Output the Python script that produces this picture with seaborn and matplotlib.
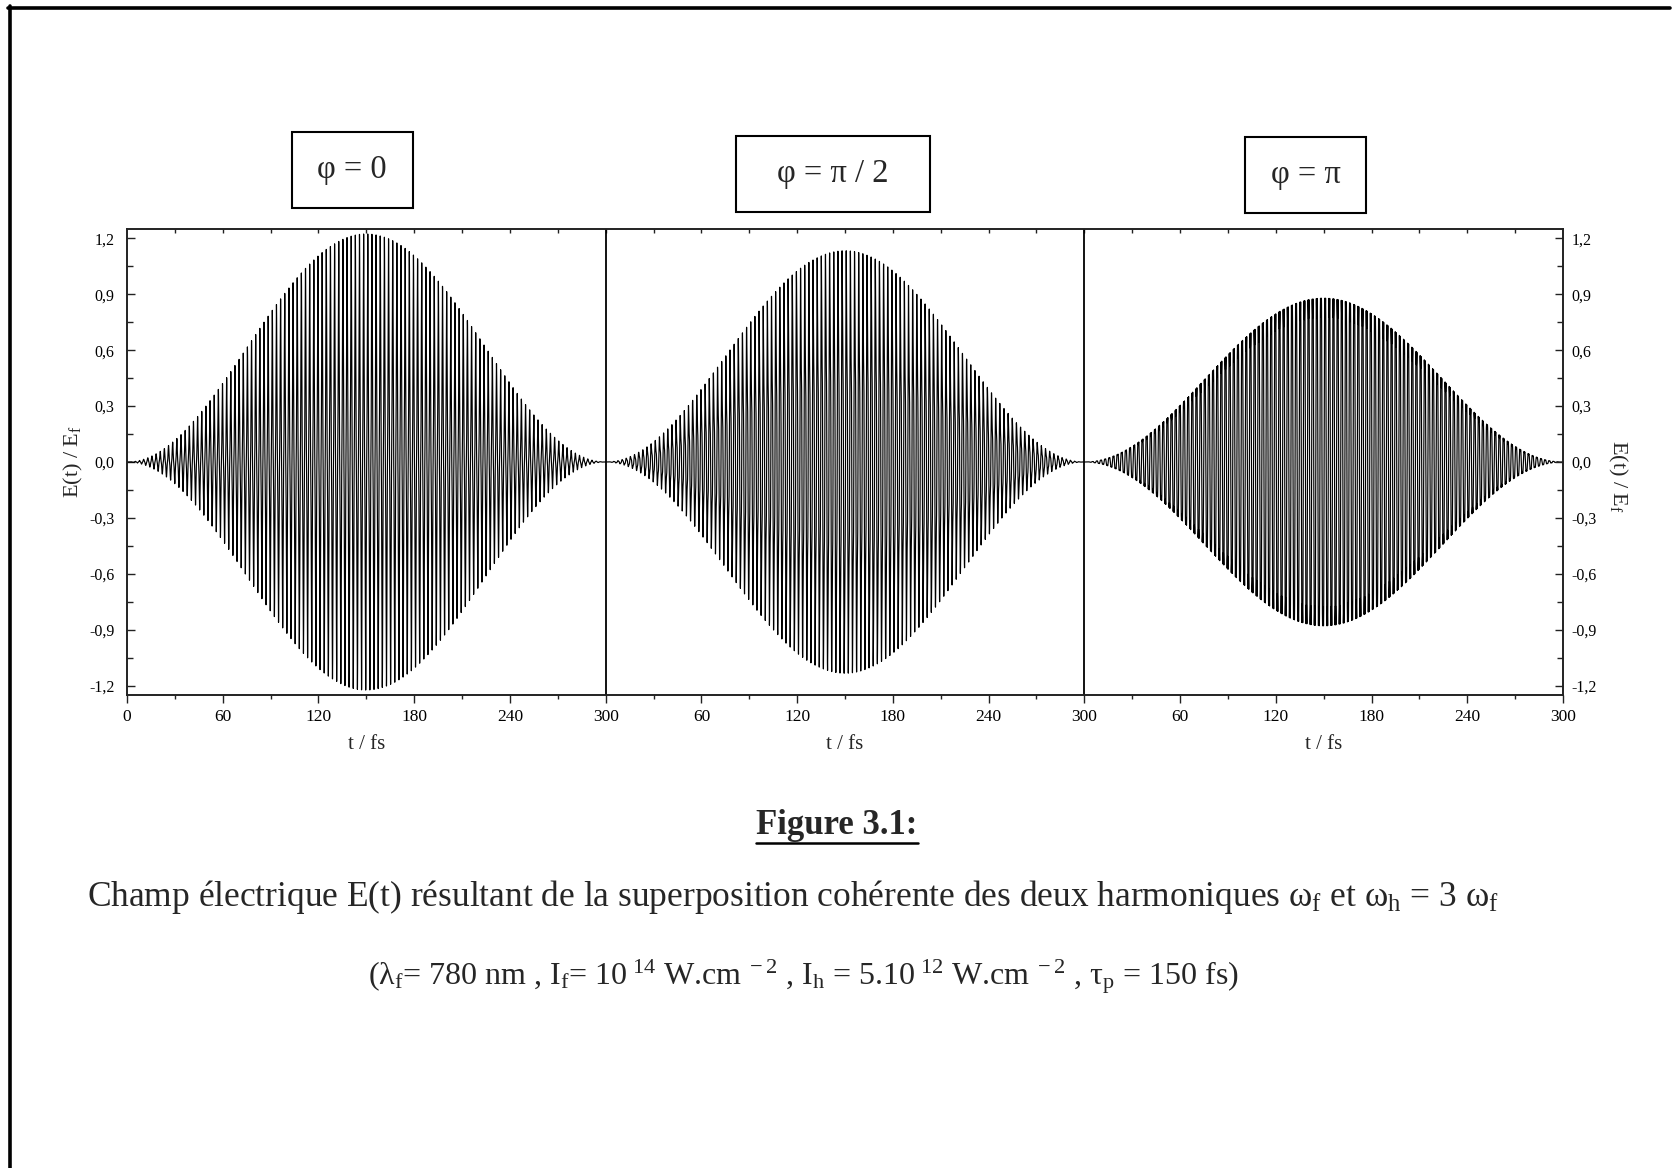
import numpy as np
import pandas as pd
import seaborn as sns
import matplotlib
matplotlib.use("Agg")
import matplotlib.pyplot as plt
from matplotlib.patches import Rectangle
from matplotlib.lines import Line2D
import matplotlib.transforms as mtransforms

# ---------------- data (parameters from the figure caption) ----------------
phase_labels = ["φ = 0", "φ = π / 2", "φ = π"]
phases = [0.0, np.pi / 2, np.pi]
wavelength_nm = 780.0          # lambda_f
intensity_f = 1e14             # W/cm^2
intensity_h = 5e12             # W/cm^2
tau_p_fs = 150.0               # FWHM of the sin^2 envelope
panel_span_fs = 300.0

xtick_values = [0, 60, 120, 180, 240, 300, 360, 420, 480, 540, 600, 660, 720, 780, 840, 900]
xtick_labels = ["0", "60", "120", "180", "240", "300", "60", "120", "180", "240",
                "300", "60", "120", "180", "240", "300"]
ytick_values = [-1.2, -0.9, -0.6, -0.3, 0.0, 0.3, 0.6, 0.9, 1.2]
ytick_labels = ["-1,2", "-0,9", "-0,6", "-0,3", "0,0", "0,3", "0,6", "0,9", "1,2"]

# ---------------- build field ----------------
c_nm_per_fs = 299.792458
omega = 2 * np.pi * c_nm_per_fs / wavelength_nm
ratio = np.sqrt(intensity_h / intensity_f)
t = np.linspace(0, panel_span_fs, 15001)
env = np.sin(np.pi * t / (2 * tau_p_fs)) ** 2
frames = []
for i, (lab, ph) in enumerate(zip(phase_labels, phases)):
    E = env * (np.cos(omega * t) + ratio * np.cos(3 * omega * t + ph))
    frames.append(pd.DataFrame({"t": t + i * panel_span_fs, "E": E, "panel": lab}))
df = pd.concat(frames, ignore_index=True)

# ---------------- style ----------------
sns.set_theme(style="white")
plt.rcParams["font.family"] = ["Liberation Serif", "DejaVu Serif"]
plt.rcParams["mathtext.fontset"] = "custom"
plt.rcParams["mathtext.rm"] = "Liberation Serif"
plt.rcParams["mathtext.it"] = "Liberation Serif:italic"
plt.rcParams["mathtext.bf"] = "Liberation Serif:bold"

W, H = 1675, 1168
fig = plt.figure(figsize=(W / 100, H / 100), dpi=100)
fig.patch.set_facecolor("white")

ax_l, ax_r, ax_t, ax_b = 127, 1563, 229, 695
ax = fig.add_axes([ax_l / W, 1 - ax_b / H, (ax_r - ax_l) / W, (ax_b - ax_t) / H])

sns.lineplot(data=df, x="t", y="E", hue="panel", palette=["black"] * 3,
             estimator=None, sort=False, legend=False, linewidth=0.85, ax=ax)

ax.set_xlim(0, 900)
ax.set_ylim(-1.25, 1.25)
for xv in (300, 600):
    ax.axvline(xv, color="black", lw=1.3)

for s in ax.spines.values():
    s.set_color("#222222")
    s.set_linewidth(1.2)

ax.set_xticks(xtick_values)
ax.set_xticklabels(xtick_labels, fontsize=12.5)
ax.set_xticks(np.arange(30, 900, 60), minor=True)
ax.set_yticks(ytick_values)
ax.set_yticklabels(ytick_labels, fontsize=11.5)
ax.set_yticks(np.arange(-1.05, 1.2, 0.3), minor=True)
ax.tick_params(axis="x", which="major", direction="out", length=6, width=1, pad=4,
               bottom=True, top=False, colors="#222222", labelcolor="black")
ax.tick_params(axis="x", which="minor", direction="out", length=3, width=1,
               bottom=True, top=False, colors="#222222")
ax.tick_params(axis="y", which="major", direction="in", length=6, width=1, pad=9,
               left=True, right=False, colors="#222222", labelcolor="black")
ax.tick_params(axis="y", which="minor", direction="in", length=4, width=1,
               left=True, right=False, colors="#222222")
# top ticks
axt = ax.secondary_xaxis("top")
axt.set_xticks(np.arange(30, 900, 30))
axt.tick_params(direction="in", length=3, width=1, labeltop=False, colors="#222222")
axt.spines["top"].set_visible(False)

ax.set_xlabel("")
ax.set_ylabel("E(t) / E$_{\\mathrm{f}}$", fontsize=16)
ax.yaxis.set_label_coords(-0.0370, 0.5)
ax.yaxis.label.set_verticalalignment("center")

ax2 = ax.twinx()
ax2.set_ylim(-1.25, 1.25)
ax2.set_yticks(ytick_values)
ax2.set_yticklabels(ytick_labels, fontsize=11.5)
ax2.set_yticks(np.arange(-1.05, 1.2, 0.3), minor=True)
ax2.tick_params(axis="y", which="major", direction="in", length=6, width=1, pad=6,
                colors="#222222", labelcolor="black")
ax2.tick_params(axis="y", which="minor", direction="in", length=4, width=1, colors="#222222")
ax2.set_ylabel("E(t) / E$_{\\mathrm{f}}$", fontsize=16, rotation=270)
ax2.yaxis.set_label_coords(1.0383, 0.468)
ax2.yaxis.label.set_verticalalignment("center")
for s in ax2.spines.values():
    s.set_color("#222222")
    s.set_linewidth(1.2)

blend = mtransforms.blended_transform_factory(ax.transData, ax.transAxes)
for i in range(3):
    ax.text(150 + i * panel_span_fs, -0.107, "t / fs", transform=blend,
            ha="center", va="center", fontsize=15)

# phase boxes
boxes = [(352, 170, 121, 76), (833, 174, 194, 76), (1305.5, 175, 121, 76)]
for (cx, cy, bw, bh), lab in zip(boxes, phase_labels):
    fig.add_artist(Rectangle(((cx - bw / 2) / W, 1 - (cy + bh / 2) / H), bw / W, bh / H,
                             transform=fig.transFigure, fill=False, ec="black", lw=1.5))
    fig.text(cx / W, 1 - cy / H, lab, ha="center", va="center", fontsize=23.5)

# caption
ftitle = fig.text(837 / W, 1 - 825 / H, "Figure 3.1:", ha="center", va="center",
                  fontsize=25, fontweight="bold")
fig.text(793 / W, 1 - 897 / H,
         "Champ électrique E(t) résultant de la superposition cohérente des deux harmoniques "
         "ω$_{\\mathrm{f}}$ et ω$_{\\mathrm{h}}$ = 3 ω$_{\\mathrm{f}}$",
         ha="center", va="center", fontsize=25.5)
fig.text(803 / W, 1 - 977 / H,
         "(λ$_{\\mathrm{f}}$= 780 nm , I$_{\\mathrm{f}}$= 10$^{\\mathrm{\\ 14}}$ W.cm$^{\\mathrm{\\ -2}}$ , "
         "I$_{\\mathrm{h}}$ = 5.10$^{\\mathrm{\\ 12}}$ W.cm$^{\\mathrm{\\ -2}}$ , "
         "τ$_{\\mathrm{p}}$ = 150 fs)",
         ha="center", va="center", fontsize=23)

# page frame (top and left edges)
fig.add_artist(Line2D([8 / W, 1670 / W], [1 - 7.5 / H, 1 - 7.5 / H],
                      transform=fig.transFigure, color="black", lw=2.6))
fig.add_artist(Line2D([9.5 / W, 9.5 / W], [1 - 6 / H, 0],
                      transform=fig.transFigure, color="black", lw=2.6))

# underline for the figure title
fig.canvas.draw()
bb = ftitle.get_window_extent(renderer=fig.canvas.get_renderer())
uy = (bb.y0 - 1) / H
fig.add_artist(Line2D([bb.x0 / W, bb.x1 / W], [uy, uy], transform=fig.transFigure,
                      color="black", lw=1.8))

fig.savefig("out.png", dpi=100, facecolor="white")
